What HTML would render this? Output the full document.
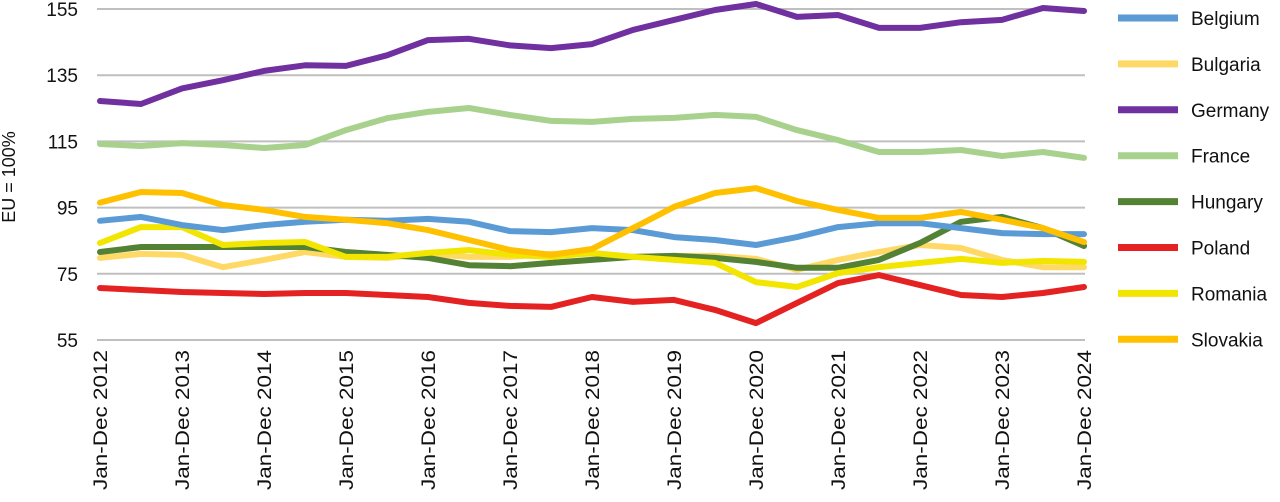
<!DOCTYPE html>
<html><head><meta charset="utf-8"><style>
body{margin:0;background:#fff;}
svg text{font-family:"Liberation Sans",sans-serif;fill:#111;}
</style></head><body>
<svg id="chart" width="1280" height="497" viewBox="0 0 1280 497"></svg>
<script>
const years=["Jan-Dec 2012","Jan-Dec 2013","Jan-Dec 2014","Jan-Dec 2015","Jan-Dec 2016","Jan-Dec 2017","Jan-Dec 2018","Jan-Dec 2019","Jan-Dec 2020","Jan-Dec 2021","Jan-Dec 2022","Jan-Dec 2023","Jan-Dec 2024"];
const yTicks=[55,75,95,115,135,155];
const names=["Belgium","Bulgaria","Germany","France","Hungary","Poland","Romania","Slovakia"];
const colors=["#5b9bd5","#ffd966","#7030a0","#a9d18e","#548235","#e52222","#f2e600","#ffc000"];
const belgium=[91,92.2,89.7,88.2,89.7,90.7,91.3,91,91.6,90.7,87.9,87.6,88.8,88.2,86.1,85.2,83.7,86.1,89.1,90.3,90.3,88.8,87.3,87,87];
const bulgaria=[79.8,81,80.7,77,79.2,81.6,80.1,79.8,81,80.1,80.1,81,81,80.1,80.4,80.4,79.5,76.2,79.2,81.6,83.7,82.8,79.2,77,77];
const germany=[127.2,126.3,131,133.5,136.3,138,137.8,141,145.6,146,144,143.2,144.4,148.7,151.7,154.7,156.5,152.6,153.2,149.3,149.3,151,151.7,155.3,154.4];
const france=[114.2,113.6,114.5,113.9,113,113.9,118.4,122,123.9,125.1,123,121.2,120.9,121.8,122.1,123,122.4,118.4,115.4,111.8,111.8,112.4,110.6,111.8,110];
const hungary=[81.6,83.1,83.1,83.1,83.1,83.1,81.6,80.7,79.8,77.6,77.3,78.3,79.2,80.1,80.4,79.8,78.6,76.8,76.8,79.2,84.3,90.7,92.2,88.8,83.4];
const poland=[70.7,70.1,69.5,69.2,68.9,69.2,69.2,68.6,68,66.2,65.3,65,68,66.5,67.1,64.1,60.1,66.2,72.2,74.6,71.6,68.6,68,69.2,71];
const romania=[84.3,89.1,89.1,83.7,84.3,84.6,80.1,80.1,81.3,82.2,80.7,80.1,81.3,80.1,79.2,78.3,72.5,71,75.2,77,78.3,79.5,78.3,78.9,78.6];
const slovakia=[96.5,99.7,99.4,95.8,94.3,92.2,91.3,90.3,88.2,85.2,82.2,80.7,82.5,88.8,95.2,99.4,100.9,97,94.3,91.9,91.9,93.7,91.3,88.8,84.6];
const series=[belgium,bulgaria,germany,france,hungary,poland,romania,slovakia];
const drawOrder=[2,3,5,1,4,6,0,7];
const svg=document.getElementById('chart');const NS="http://www.w3.org/2000/svg";
const X0=100,X1=1084,Y0=340,Y1=9;
const xYear=i=>X0+(X1-X0)*i/(years.length-1);
const xIdx=i=>X0+(X1-X0)*i/(belgium.length-1);
const yVal=v=>Y0-(v-55)/(155-55)*(Y0-Y1);
function mk(t,a){const e=document.createElementNS(NS,t);for(const k in a)e.setAttribute(k,a[k]);svg.appendChild(e);return e;}
yTicks.forEach(v=>{
 const g=mk('line',{x1:97,x2:1085,y1:yVal(v),y2:yVal(v),stroke:'#bfbfbf','stroke-width':2});
 
 
 const t=mk('text',{x:78,y:yVal(v)+7,'text-anchor':'end','font-size':19});t.textContent=v;
 
 
});
years.forEach((s,i)=>{
 const x=xYear(i)+7;
 const t=mk('text',{x:x,y:350,'text-anchor':'end','font-size':19,textLength:140,lengthAdjust:'spacingAndGlyphs',transform:`rotate(-90 ${x} 350)`});t.textContent=s;
 
 
});
const yt=mk('text',{x:15,y:177,'text-anchor':'middle','font-size':18,transform:'rotate(-90 15 177)'});yt.textContent='EU = 100%';


drawOrder.forEach(k=>{
 const d=series[k].map((v,i)=>(i?'L':'M')+xIdx(i).toFixed(1)+','+yVal(v).toFixed(1)).join('');
 const p=mk('path',{d:d,fill:'none',stroke:colors[k],'stroke-width':6,'stroke-linejoin':'round','stroke-linecap':'round'});
 
 
});
names.forEach((n,k)=>{
 const y=18+k*45.9;
 const l=mk('line',{x1:1118,x2:1178,y1:y,y2:y,stroke:colors[k],'stroke-width':7});
 
 
 const t=mk('text',{x:1191,y:y+7,'font-size':19});t.textContent=n;
 
 
});
</script>
</body></html>
